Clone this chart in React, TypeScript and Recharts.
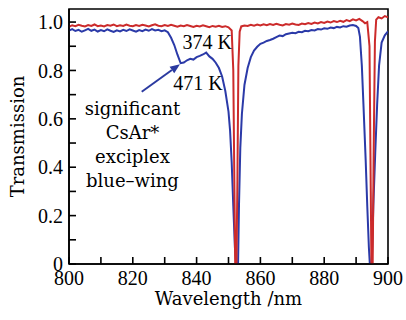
import { LineChart, Line, XAxis, YAxis, ReferenceArea, ReferenceDot, ReferenceLine } from "recharts";

// 374 K trace (red)
const T374_NM = [
  800, 801, 802, 803, 804, 805, 806, 807, 808, 809, 810, 811, 812, 813, 814, 815, 816, 817, 818, 819,
  820, 821, 822, 823, 824, 825, 826, 827, 828, 829, 830, 831, 832, 833, 834, 835, 836, 837, 838, 839,
  840, 841, 842, 843, 844, 845, 846, 847, 848, 849, 850, 851, 851.5, 851.9, 852.1, 852.5, 852.8, 853.1, 853.5,
  854, 855, 856, 857, 858, 859, 860, 861, 862, 863, 864, 865, 866, 867, 868, 869, 870, 871, 872, 873,
  874, 875, 876, 877, 878, 879, 880, 881, 882, 883, 884, 885, 886, 887, 888, 889, 890, 891, 892, 892.8,
  893.5, 894.2, 894.6, 894.8, 895.2, 895.5, 895.9, 896.3, 897, 898, 899, 900,
];
const T374 = [
  0.98, 0.987, 0.983, 0.989, 0.985, 0.982, 0.988, 0.984, 0.99, 0.983, 0.986, 0.982, 0.988, 0.985, 0.99, 0.983, 0.987, 0.984, 0.99, 0.985,
  0.983, 0.988, 0.984, 0.989, 0.986, 0.982, 0.987, 0.991, 0.985, 0.983, 0.988, 0.984, 0.989, 0.985, 0.981, 0.986, 0.983, 0.988, 0.984, 0.98,
  0.985, 0.982, 0.987, 0.983, 0.979, 0.984, 0.981, 0.985, 0.98, 0.983, 0.978, 0.965, 0.8, 0.25, 0, 0, 0.35, 0.82, 0.96,
  0.982, 0.986, 0.984, 0.989, 0.985, 0.99, 0.986, 0.991, 0.987, 0.992, 0.988, 0.993, 0.989, 0.986, 0.992, 0.989, 0.994, 0.99, 0.988, 0.994,
  0.991, 0.996, 0.992, 0.998, 0.994, 1.0, 0.996, 1.002, 0.998, 1.004, 1.0, 1.005, 1.001, 1.008, 1.004, 1.011, 1.007, 1.013, 1.004, 0.995,
  1.0, 0.9, 0.3, 0, 0, 0.45, 0.92, 1.01, 1.02, 1.015, 1.025, 1.02,
];

// 471 K trace (blue)
const T471_NM = [
  800, 801, 802, 803, 804, 805, 806, 807, 808, 809, 810, 811, 812, 813, 814, 815, 816, 817, 818, 819,
  820, 821, 822, 823, 824, 825, 826, 827, 828, 829, 830, 831, 832, 833, 834, 835, 836, 837, 838, 839,
  840, 841, 842, 843, 844, 845, 846, 847, 848, 849, 850, 850.5, 851, 851.5, 852, 852.4, 853, 853.3, 853.7,
  854.2, 855, 856, 857, 858, 859, 860, 861, 862, 863, 864, 865, 866, 867, 868, 869, 870, 871, 872, 873,
  874, 875, 876, 877, 878, 879, 880, 881, 882, 883, 884, 885, 886, 887, 888, 889, 890, 890.7, 891.2, 891.8,
  892.3, 893, 893.5, 894, 894.3, 894.9, 895.4, 896, 896.6, 897.2, 898, 899, 900,
];
const T471 = [
  0.965, 0.971, 0.963, 0.968, 0.96, 0.966, 0.972, 0.964, 0.969, 0.961, 0.967, 0.962, 0.97, 0.964, 0.959, 0.966, 0.961, 0.968, 0.963, 0.97,
  0.965, 0.96, 0.967, 0.962, 0.969, 0.964, 0.971, 0.965, 0.968, 0.962, 0.966, 0.958, 0.935, 0.905, 0.865, 0.83, 0.833, 0.842, 0.848, 0.845,
  0.855, 0.86, 0.866, 0.874, 0.858, 0.848, 0.832, 0.81, 0.775, 0.715, 0.63, 0.55, 0.42, 0.24, 0.07, 0, 0, 0.25, 0.48,
  0.62, 0.74, 0.81, 0.855, 0.882, 0.898, 0.91, 0.915, 0.922, 0.926, 0.931, 0.938, 0.944, 0.942, 0.95, 0.953, 0.956, 0.954, 0.96, 0.958,
  0.964, 0.962, 0.967, 0.965, 0.971, 0.969, 0.974, 0.972, 0.977, 0.975, 0.98, 0.978, 0.983, 0.981, 0.986, 0.988, 0.984, 0.975, 0.94, 0.82,
  0.66, 0.43, 0.24, 0.07, 0, 0, 0.24, 0.46, 0.66, 0.82, 0.915, 0.945, 0.962,
];

const X_TICKS = [800, 810, 820, 830, 840, 850, 860, 870, 880, 890, 900];
const Y_TICKS = [0, 0.1, 0.2, 0.3, 0.4, 0.5, 0.6, 0.7, 0.8, 0.9, 1.0];
const NOTE_LINES = ["significant", "CsAr*", "exciplex", "blue–wing"];
const NOTE_Y = [0.642, 0.542, 0.443, 0.343];

const red = T374_NM.map((nm, i) => ({ nm, t: T374[i] }));
const blue = T471_NM.map((nm, i) => ({ nm, t: T471[i] }));

const NUM_FONT = "Liberation Serif";
const TXT_FONT = "DejaVu Serif";

function Arrow(props: any) {
  const { x1, y1, x2, y2 } = props;
  const dx = x2 - x1;
  const dy = y2 - y1;
  const len = Math.sqrt(dx * dx + dy * dy);
  const ux = dx / len;
  const uy = dy / len;
  const hl = 10;
  const hw = 4;
  const bx = x2 - ux * hl;
  const by = y2 - uy * hl;
  const pts = `${x2},${y2} ${bx - uy * hw},${by + ux * hw} ${bx + uy * hw},${by - ux * hw}`;
  return (
    <g>
      <line x1={x1} y1={y1} x2={bx} y2={by} stroke="#2b3aa0" strokeWidth={2} />
      <polygon points={pts} fill="#2b3aa0" />
    </g>
  );
}

const numStyle = { fontFamily: NUM_FONT };
const txtStyle = { fontFamily: TXT_FONT };

export default function App() {
  return (
    <div
      style={{
        position: "absolute",
        left: 0,
        top: 0,
        width: 406,
        height: 320,
        background: "#fff",
        fontFamily: NUM_FONT,
      }}
    >
      <LineChart width={406} height={320} margin={{ top: 9, right: 18, left: 0, bottom: 0 }}>
        <XAxis
          dataKey="nm"
          type="number"
          domain={[800, 900]}
          ticks={X_TICKS}
          interval={0}
          allowDataOverflow
          height={56}
          tickSize={-7}
          tickMargin={14}
          tickFormatter={(v: number) => (v % 20 === 0 ? String(v) : "")}
          tick={{ fill: "#000", fontSize: 20, fontFamily: NUM_FONT, style: numStyle }}
          axisLine={{ stroke: "#000", strokeWidth: 1.6 }}
          tickLine={{ stroke: "#000", strokeWidth: 1.6 }}
          label={{
            value: "Wavelength /nm",
            position: "insideBottom",
            offset: 15,
            fill: "#000",
            fontSize: 18,
            fontFamily: TXT_FONT,
            style: txtStyle,
          }}
        />
        <YAxis
          type="number"
          domain={[0, 1.054]}
          ticks={Y_TICKS}
          interval={0}
          allowDataOverflow
          width={69}
          tickSize={-7}
          tickMargin={13}
          tickFormatter={(v: number) => {
            const k = Math.round(v * 10);
            if (k % 2 !== 0) return "";
            return k === 0 ? "0" : (k / 10).toFixed(1);
          }}
          tick={{ fill: "#000", fontSize: 20, fontFamily: NUM_FONT, style: numStyle }}
          axisLine={{ stroke: "#000", strokeWidth: 1.6 }}
          tickLine={{ stroke: "#000", strokeWidth: 1.6 }}
          label={{
            value: "Transmission",
            angle: -90,
            position: "insideLeft",
            offset: 18,
            fill: "#000",
            fontSize: 18,
            fontFamily: TXT_FONT,
            style: { textAnchor: "middle", fontFamily: TXT_FONT },
          }}
        />
        <ReferenceArea x1={800} x2={900} y1={0} y2={1.054} fill="none" fillOpacity={0} stroke="#000" strokeWidth={1.6} />
        <Line data={blue} dataKey="t" type="linear" stroke="#2b3aa8" strokeWidth={2} dot={false} isAnimationActive={false} />
        <Line data={red} dataKey="t" type="linear" stroke="#cc2b2b" strokeWidth={2} dot={false} isAnimationActive={false} />
        <ReferenceLine
          segment={[
            { x: 822.8, y: 0.712 },
            { x: 834.8, y: 0.826 },
          ]}
          shape={Arrow}
        />
        <ReferenceDot
          x={843.3}
          y={0.92}
          r={0}
          fill="none"
          stroke="none"
          label={{ value: "374 K", position: "center", fill: "#000", fontSize: 20, fontFamily: NUM_FONT, style: numStyle }}
        />
        <ReferenceDot
          x={840.4}
          y={0.748}
          r={0}
          fill="none"
          stroke="none"
          label={{ value: "471 K", position: "center", fill: "#000", fontSize: 20, fontFamily: NUM_FONT, style: numStyle }}
        />
        {NOTE_LINES.map((txt, i) => (
          <ReferenceDot
            key={txt}
            x={819.9}
            y={NOTE_Y[i]}
            r={0}
            fill="none"
            stroke="none"
            label={{ value: txt, position: "center", fill: "#000", fontSize: 18, fontFamily: TXT_FONT, style: txtStyle }}
          />
        ))}
      </LineChart>
    </div>
  );
}
